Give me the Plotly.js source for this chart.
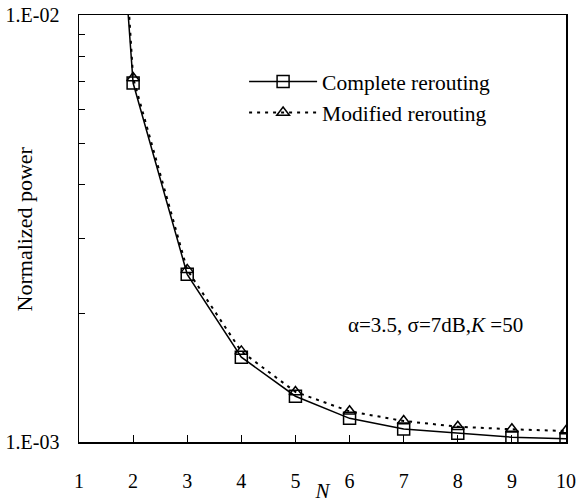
<!DOCTYPE html>
<html>
<head>
<meta charset="utf-8">
<script src="https://cdn.plot.ly/plotly-3.0.1.min.js"></script>
<style>
html,body{margin:0;padding:0;background:#fff;}
#chart{width:579px;height:503px;}
</style>
</head>
<body>
<div id="chart"></div>
<script>
// Data
const N = [1, 2, 3, 4, 5, 6, 7, 8, 9, 10];
const completeRerouting = [0.4, 0.00693, 0.00247, 0.00158, 0.00128, 0.001136, 0.001072, 0.001048, 0.001026, 0.001018];
const modifiedRerouting = [0.8, 0.00712, 0.00253, 0.00163, 0.00131, 0.00118, 0.00112, 0.001086, 0.001071, 0.001061];
const seriesNames = ["Complete rerouting", "Modified rerouting"];
const xTickVals = [1, 2, 3, 4, 5, 6, 7, 8, 9, 10];
const yTickVals = [0.001, 0.01];
const yTickText = ["1.E-03", "1.E-02"];
const yMinorVals = [0.002, 0.003, 0.004, 0.005, 0.006, 0.007, 0.008, 0.009];
const yTitle = "Normalized power";
const xTitle = "<i>N</i>";
const noteText = "α=3.5, σ=7dB,<i>K</i> =50";

const FONT = "Liberation Serif, Times New Roman, serif";

const traces = [
  {
    x: N, y: completeRerouting, name: seriesNames[0],
    mode: "lines+markers", type: "scatter",
    line: {color: "#000", width: 1.5},
    marker: {symbol: "square-open", size: 12, color: "#000", line: {width: 1.5, color: "#000"}}
  },
  {
    x: N, y: modifiedRerouting, name: seriesNames[1],
    mode: "lines+markers", type: "scatter",
    line: {color: "#000", width: 2, dash: "3px,5px"},
    marker: {symbol: "triangle-up-open", size: 11, color: "#000", line: {width: 1.5, color: "#000"}}
  }
];

const layout = {
  width: 579, height: 503,
  margin: {l: 79, r: 13, t: 15, b: 61},
  paper_bgcolor: "#fff", plot_bgcolor: "#fff",
  font: {family: FONT, size: 18, color: "#000"},
  showlegend: true,
  legend: {
    x: 0.339, y: 0.892, xanchor: "left", yanchor: "top",
    bgcolor: "rgba(0,0,0,0)", borderwidth: 0,
    font: {family: FONT, size: 21.5, color: "#000"},
    itemwidth: 68, tracegroupgap: 0
  },
  xaxis: {
    range: [1, 10], tickmode: "array", tickvals: xTickVals,
    ticks: "inside", ticklen: 7, tickwidth: 1, tickcolor: "#000",
    showline: true, linecolor: "#000", linewidth: 1.5, mirror: true,
    showgrid: false, zeroline: false,
    ticklabelstandoff: 20,
    tickfont: {family: FONT, size: 20, color: "#000"},
    title: {text: xTitle, font: {family: FONT, size: 21, color: "#000"}, standoff: 0}
  },
  yaxis: {
    type: "log", range: [-3, -2],
    tickmode: "array", tickvals: yTickVals, ticktext: yTickText,
    ticks: "inside", ticklen: 6, tickwidth: 1, tickcolor: "#000",
    minor: {tickmode: "array", tickvals: yMinorVals, ticks: "inside", ticklen: 6, tickwidth: 1, tickcolor: "#000", showgrid: false},
    showline: true, linecolor: "#000", linewidth: 1.5, mirror: true,
    showgrid: false, zeroline: false,
    ticklabelstandoff: 14,
    tickfont: {family: FONT, size: 20, color: "#000"}
  },
  annotations: [
    {
      xref: "paper", yref: "paper", x: -0.111, y: 0.5, xanchor: "center", yanchor: "middle",
      text: yTitle, textangle: -90, showarrow: false,
      font: {family: FONT, size: 22, color: "#000"}
    },
    {
      xref: "paper", yref: "paper", x: 0.733, y: 0.275, xanchor: "center", yanchor: "middle",
      text: noteText, showarrow: false,
      font: {family: FONT, size: 21, color: "#000"}
    }
  ]
};

Plotly.newPlot("chart", traces, layout, {displayModeBar: false, staticPlot: true});
</script>
</body>
</html>
